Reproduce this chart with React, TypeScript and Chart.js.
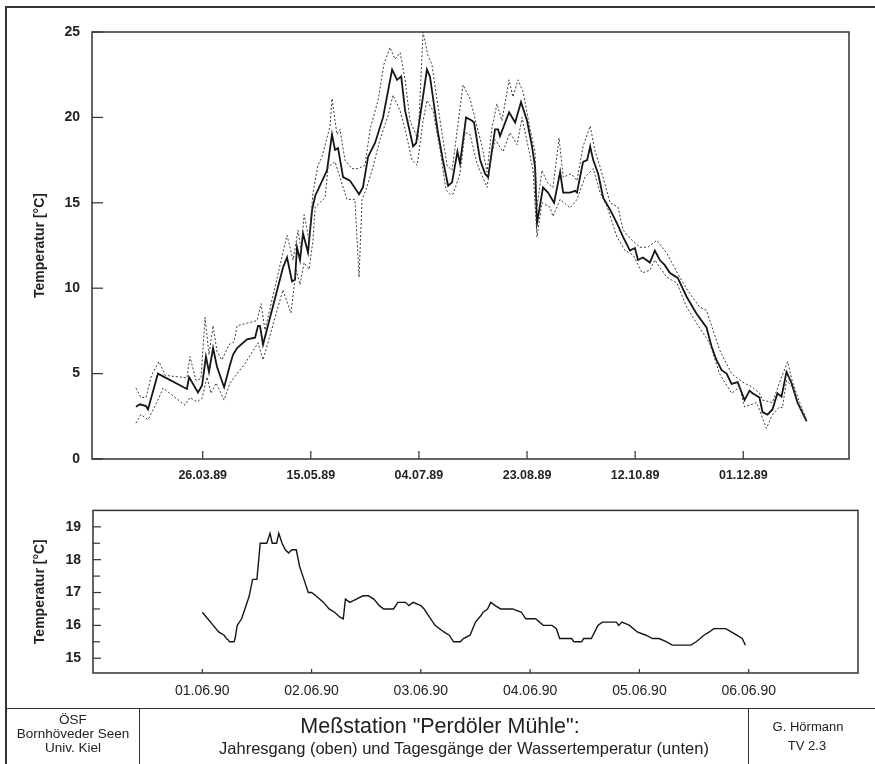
import React, { useEffect, useRef } from 'react';
import { Chart, registerables } from 'chart.js';

Chart.register(...registerables);

// ---------- Top chart: annual course 1989 (x = day of year, 0 = 01.01.89) ----------
const topTickDays = [84, 134, 184, 234, 284, 334];
const topTickLabels = ['26.03.89', '15.05.89', '04.07.89', '23.08.89', '12.10.89', '01.12.89'];
const topYTicks = [0, 5, 10, 15, 20, 25];

const meanDays = [53.1, 55.0, 57.8, 58.7, 63.3, 76.7, 77.7, 81.8, 83.7, 85.5, 86.9, 88.8, 90.6, 93.9, 96.6, 98.0, 99.9, 104.5, 108.2, 109.6, 110.5, 111.9, 121.1, 123.0, 125.3, 126.7, 127.6, 129.0, 130.4, 132.7, 134.6, 136.0, 141.5, 143.8, 145.2, 146.6, 148.9, 152.1, 156.3, 158.1, 160.5, 163.7, 167.4, 169.2, 171.6, 173.9, 175.8, 177.6, 181.3, 182.7, 185.4, 187.7, 189.1, 192.8, 195.1, 197.5, 199.3, 201.8, 203.0, 205.8, 208.6, 209.5, 212.3, 214.6, 216.0, 217.8, 219.2, 220.6, 221.5, 225.7, 228.5, 231.2, 234.0, 236.3, 237.7, 238.6, 241.4, 243.7, 246.5, 249.3, 250.7, 253.9, 256.2, 257.1, 259.9, 261.8, 263.2, 264.6, 266.9, 269.2, 272.4, 275.6, 278.4, 281.6, 283.9, 285.3, 287.6, 290.8, 293.1, 295.4, 297.7, 300.0, 303.7, 307.8, 312.4, 317.0, 319.3, 321.6, 324.0, 326.3, 328.6, 331.4, 334.6, 336.9, 338.3, 341.5, 342.9, 345.2, 347.5, 349.8, 351.7, 354.0, 356.3, 359.1, 361.4, 363.3];
const meanTemps = [3.06, 3.2, 3.1, 2.9, 5.0, 4.1, 4.8, 3.9, 4.3, 6.0, 5.1, 6.5, 5.4, 4.2, 5.5, 6.1, 6.5, 7.0, 7.1, 7.8, 7.8, 6.7, 11.2, 11.8, 10.4, 10.5, 12.4, 11.65, 13.2, 12.1, 14.6, 15.4, 16.9, 19.0, 18.1, 18.2, 16.5, 16.3, 15.5, 15.9, 17.7, 18.5, 20.0, 21.2, 22.8, 22.2, 22.4, 20.4, 18.3, 18.5, 20.8, 22.8, 22.4, 19.1, 17.5, 16.0, 16.2, 18.0, 17.3, 20.0, 19.8, 19.7, 17.5, 16.7, 16.5, 18.1, 19.3, 19.3, 18.9, 20.3, 19.7, 20.9, 19.8, 18.3, 17.1, 13.8, 15.9, 15.6, 15.0, 16.8, 15.6, 15.6, 15.7, 15.6, 17.4, 17.5, 18.3, 17.5, 16.7, 15.3, 14.6, 13.8, 13.0, 12.2, 12.35, 11.65, 11.8, 11.5, 12.2, 11.65, 11.35, 10.9, 10.6, 9.5, 8.5, 7.7, 6.6, 5.8, 5.2, 5.0, 4.4, 4.5, 3.45, 4.0, 3.85, 3.6, 2.75, 2.6, 2.9, 3.85, 3.65, 5.1, 4.45, 3.3, 2.7, 2.2];

const maxDays = [53.1, 55.4, 57.8, 60.3, 63.8, 66.6, 76.7, 78.1, 80.9, 83.2, 85.1, 86.9, 88.8, 90.6, 92.9, 96.2, 98.5, 99.9, 109.1, 111.0, 112.8, 123.0, 125.8, 128.1, 129.5, 130.9, 133.2, 135.0, 137.3, 139.2, 142.9, 143.8, 146.1, 147.5, 149.8, 153.0, 155.8, 159.1, 161.4, 165.1, 167.8, 170.6, 172.9, 175.3, 177.6, 179.9, 183.6, 185.9, 188.2, 190.0, 193.8, 197.0, 199.3, 204.4, 207.6, 209.0, 213.2, 215.5, 217.8, 220.1, 222.4, 225.7, 227.5, 229.8, 232.2, 235.4, 237.7, 238.6, 240.9, 243.3, 246.0, 248.8, 250.7, 254.4, 257.1, 259.9, 263.2, 265.5, 267.8, 272.4, 276.1, 278.4, 282.6, 286.2, 289.9, 294.0, 298.6, 304.6, 309.2, 313.8, 317.0, 323.0, 328.6, 333.7, 338.3, 341.5, 342.9, 347.5, 351.7, 354.5, 356.8, 360.1, 363.3];
const maxTemps = [4.15, 3.6, 3.6, 4.9, 5.7, 4.9, 4.75, 6.0, 4.6, 4.7, 8.3, 6.1, 7.8, 6.3, 5.8, 6.7, 6.85, 7.8, 8.1, 9.1, 7.55, 13.1, 11.65, 13.4, 12.2, 14.3, 12.8, 15.6, 17.2, 17.7, 19.5, 21.1, 19.0, 19.3, 17.5, 17.0, 17.0, 17.2, 19.3, 21.0, 23.1, 24.1, 23.4, 23.8, 22.2, 19.8, 18.7, 25.0, 23.6, 23.1, 19.8, 17.2, 16.9, 21.9, 21.1, 20.4, 18.3, 16.8, 19.4, 20.8, 19.8, 22.2, 21.2, 22.2, 21.5, 19.3, 18.0, 14.75, 16.9, 16.2, 15.9, 18.8, 16.5, 16.7, 16.3, 18.3, 19.5, 18.0, 17.1, 15.0, 14.75, 13.4, 12.8, 12.4, 12.4, 12.8, 12.05, 10.65, 9.7, 8.9, 8.7, 6.4, 5.0, 4.5, 4.2, 3.85, 3.45, 3.3, 4.8, 5.7, 4.5, 3.3, 2.3];

const minDays = [53.1, 55.4, 58.7, 63.3, 65.7, 75.8, 78.1, 81.4, 83.7, 86.0, 87.8, 90.2, 93.9, 96.6, 103.6, 109.6, 111.9, 121.1, 124.8, 127.2, 129.0, 130.9, 133.2, 135.0, 136.0, 140.6, 142.0, 145.2, 150.7, 154.4, 156.3, 157.7, 159.5, 162.3, 166.0, 169.7, 172.0, 175.3, 177.6, 180.8, 183.2, 185.9, 187.7, 190.5, 193.8, 196.5, 198.4, 199.8, 203.0, 205.3, 207.6, 210.9, 215.5, 217.8, 219.2, 222.9, 226.1, 229.4, 231.7, 234.5, 236.8, 238.6, 240.9, 244.6, 246.0, 249.3, 253.9, 257.1, 260.8, 264.6, 267.8, 271.1, 275.6, 279.3, 283.0, 287.2, 290.8, 293.1, 298.6, 303.3, 307.8, 312.4, 318.4, 323.0, 328.6, 332.3, 334.6, 340.2, 344.7, 347.5, 350.7, 352.1, 354.0, 356.8, 360.1, 363.3];
const minTemps = [2.1, 2.6, 2.3, 3.45, 4.15, 3.15, 3.6, 3.35, 3.55, 4.8, 3.85, 4.45, 3.45, 4.45, 5.6, 6.8, 5.8, 9.9, 8.55, 11.1, 10.2, 11.5, 11.1, 12.8, 14.75, 15.3, 17.1, 17.4, 15.2, 15.2, 10.65, 15.2, 15.75, 16.9, 18.7, 20.1, 21.3, 20.4, 19.3, 17.5, 17.2, 19.8, 21.0, 20.4, 18.1, 15.75, 15.5, 15.5, 16.7, 19.1, 19.0, 17.3, 15.9, 17.9, 18.7, 18.0, 19.1, 18.4, 20.0, 18.3, 16.9, 13.0, 15.0, 14.75, 14.2, 15.2, 14.7, 15.2, 16.5, 17.0, 15.6, 14.75, 13.0, 12.2, 11.95, 10.9, 11.05, 11.65, 10.65, 10.3, 8.9, 7.95, 6.8, 5.0, 3.85, 4.2, 3.05, 3.3, 1.8, 2.6, 3.05, 3.0, 4.6, 4.2, 3.05, 2.2];

// ---------- Bottom chart: diurnal course 01.06.90 - 06.06.90 (x = days since 01.06.90 00:00) ----------
const dayTickValues = [0, 1, 2, 3, 4, 5];
const dayTickLabels = ['01.06.90', '02.06.90', '03.06.90', '04.06.90', '05.06.90', '06.06.90'];
const dayYTicks = [15, 15.5, 16, 16.5, 17, 17.5, 18, 18.5, 19];

const juneTimes = [0.00, 0.05, 0.10, 0.15, 0.20, 0.22, 0.24, 0.25, 0.29, 0.30, 0.32, 0.36, 0.40, 0.43, 0.46, 0.50, 0.53, 0.59, 0.62, 0.64, 0.68, 0.70, 0.73, 0.76, 0.79, 0.82, 0.86, 0.89, 0.93, 0.97, 1.00, 1.04, 1.11, 1.16, 1.21, 1.26, 1.29, 1.31, 1.35, 1.41, 1.47, 1.52, 1.57, 1.62, 1.66, 1.75, 1.79, 1.86, 1.89, 1.93, 2.00, 2.03, 2.07, 2.13, 2.21, 2.26, 2.30, 2.36, 2.39, 2.45, 2.50, 2.55, 2.57, 2.61, 2.64, 2.68, 2.73, 2.84, 2.92, 2.96, 3.05, 3.12, 3.20, 3.24, 3.27, 3.38, 3.40, 3.47, 3.49, 3.56, 3.62, 3.66, 3.79, 3.81, 3.84, 3.91, 3.98, 4.06, 4.12, 4.18, 4.25, 4.30, 4.47, 4.52, 4.59, 4.64, 4.68, 4.79, 4.84, 4.89, 4.94, 4.97];
const juneTemps = [16.4, 16.2, 16.0, 15.8, 15.7, 15.6, 15.55, 15.5, 15.5, 15.6, 16.0, 16.2, 16.6, 16.9, 17.4, 17.4, 18.5, 18.5, 18.8, 18.5, 18.5, 18.8, 18.5, 18.3, 18.2, 18.3, 18.3, 17.8, 17.4, 17.0, 17.0, 16.9, 16.7, 16.5, 16.4, 16.25, 16.2, 16.8, 16.7, 16.8, 16.9, 16.9, 16.8, 16.6, 16.5, 16.5, 16.7, 16.7, 16.6, 16.7, 16.6, 16.5, 16.3, 16.0, 15.8, 15.7, 15.5, 15.5, 15.6, 15.7, 16.1, 16.3, 16.4, 16.5, 16.7, 16.6, 16.5, 16.5, 16.4, 16.2, 16.2, 16.0, 16.0, 15.9, 15.6, 15.6, 15.5, 15.5, 15.6, 15.6, 16.0, 16.1, 16.1, 16.0, 16.1, 16.0, 15.8, 15.7, 15.6, 15.6, 15.5, 15.4, 15.4, 15.5, 15.7, 15.8, 15.9, 15.9, 15.8, 15.7, 15.6, 15.4];

const FONT = '"Liberation Sans", Arial, Helvetica, sans-serif';
const INK = '#222';

const pts = (xs: number[], ys: number[]) => xs.map((x, i) => ({ x, y: ys[i] }));

const insideTicks = {
  id: 'insideTicks',
  afterDraw(chart: any, _args: any, opts: any) {
    const { ctx, chartArea: a } = chart;
    ctx.save();
    ctx.strokeStyle = '#333';
    ctx.lineWidth = 1.5;
    ctx.strokeRect(a.left, a.top, a.right - a.left, a.bottom - a.top);
    ctx.lineWidth = 1.2;
    const xs = chart.scales.x;
    xs.ticks.forEach((t: any) => {
      const px = xs.getPixelForValue(t.value);
      ctx.beginPath();
      ctx.moveTo(px, a.bottom);
      ctx.lineTo(px, a.bottom - opts.xLen);
      ctx.stroke();
    });
    const ys = chart.scales.y;
    ys.ticks.forEach((t: any) => {
      const py = ys.getPixelForValue(t.value);
      const len = Number.isInteger(t.value) ? opts.yLen : opts.yMinor;
      ctx.beginPath();
      ctx.moveTo(a.left, py);
      ctx.lineTo(a.left + len, py);
      ctx.stroke();
    });
    ctx.restore();
  },
};

function useChart(ref: React.RefObject<HTMLCanvasElement>, makeConfig: () => any) {
  useEffect(() => {
    if (!ref.current) return;
    const chart = new Chart(ref.current, makeConfig());
    return () => chart.destroy();
  }, []);
}

export default function App() {
  const topRef = useRef<HTMLCanvasElement>(null);
  const botRef = useRef<HTMLCanvasElement>(null);

  useChart(topRef, () => ({
    type: 'line',
    data: {
      datasets: [
        { data: pts(maxDays, maxTemps), borderColor: '#3a3a3a', borderWidth: 1, borderDash: [2, 2], pointRadius: 0, tension: 0 },
        { data: pts(minDays, minTemps), borderColor: '#3a3a3a', borderWidth: 1, borderDash: [2, 2], pointRadius: 0, tension: 0 },
        { data: pts(meanDays, meanTemps), borderColor: '#151515', borderWidth: 1.8, pointRadius: 0, tension: 0 },
      ],
    },
    options: {
      animation: false,
      responsive: false,
      events: [],
      layout: { padding: { top: 32, right: 26, left: 0, bottom: 0 } },
      plugins: { legend: { display: false }, tooltip: { enabled: false }, insideTicks: { xLen: 8, yLen: 11, yMinor: 7 } },
      scales: {
        x: {
          type: 'linear', min: 32.8, max: 382.9,
          grid: { display: false, drawTicks: false }, border: { display: false },
          afterBuildTicks: (s: any) => { s.ticks = topTickDays.map((v) => ({ value: v })); },
          afterFit: (s: any) => { s.height = 31; },
          ticks: { autoSkip: false, maxRotation: 0, padding: 9, color: INK, font: { family: FONT, size: 12.5, weight: 'bold' }, callback: (_v: any, i: number) => topTickLabels[i] },
        },
        y: {
          type: 'linear', min: 0, max: 25,
          grid: { display: false, drawTicks: false }, border: { display: false },
          afterBuildTicks: (s: any) => { s.ticks = topYTicks.map((v) => ({ value: v })); },
          afterFit: (s: any) => { s.width = 92; },
          ticks: { padding: 12, color: INK, font: { family: FONT, size: 14, weight: 'bold' }, callback: (v: any) => String(v) },
          title: { display: true, text: 'Temperatur [°C]', color: INK, font: { family: FONT, size: 14, weight: 'bold' }, padding: { top: 31.6, bottom: 0 } },
        },
      },
    },
    plugins: [insideTicks],
  }));

  useChart(botRef, () => ({
    type: 'line',
    data: {
      datasets: [
        { data: pts(juneTimes, juneTemps), borderColor: '#151515', borderWidth: 1.4, pointRadius: 0, tension: 0 },
      ],
    },
    options: {
      animation: false,
      responsive: false,
      events: [],
      layout: { padding: { top: 16, right: 17, left: 0, bottom: 0 } },
      plugins: { legend: { display: false }, tooltip: { enabled: false }, insideTicks: { xLen: 4, yLen: 8, yMinor: 7 } },
      scales: {
        x: {
          type: 'linear', min: -1, max: 6,
          grid: { display: false, drawTicks: false }, border: { display: false },
          afterBuildTicks: (s: any) => { s.ticks = dayTickValues.map((v) => ({ value: v })); },
          afterFit: (s: any) => { s.height = 35; },
          ticks: { autoSkip: false, maxRotation: 0, padding: 10, color: INK, font: { family: FONT, size: 14 }, callback: (_v: any, i: number) => dayTickLabels[i] },
        },
        y: {
          type: 'linear', min: 14.55, max: 19.5,
          grid: { display: false, drawTicks: false }, border: { display: false },
          afterBuildTicks: (s: any) => { s.ticks = dayYTicks.map((v) => ({ value: v })); },
          afterFit: (s: any) => { s.width = 93; },
          ticks: { autoSkip: false, padding: 12, color: INK, font: { family: FONT, size: 14, weight: 'bold' }, callback: (v: any) => (Number.isInteger(v) ? String(v) : '') },
          title: { display: true, text: 'Temperatur [°C]', color: INK, font: { family: FONT, size: 14, weight: 'bold' }, padding: { top: 31.6, bottom: 0 } },
        },
      },
    },
    plugins: [insideTicks],
  }));

  const txt = (cx: number, cy: number, size: number, w = 200): React.CSSProperties => ({
    position: 'absolute', left: cx - w / 2, width: w, top: cy - size * 0.6, height: size * 1.2, lineHeight: `${size * 1.2}px`,
    fontSize: size, fontFamily: FONT, color: INK, textAlign: 'center', whiteSpace: 'nowrap',
  });

  return (
    <div style={{ position: 'absolute', left: 0, top: 0, width: 875, height: 764, overflow: 'hidden', background: '#fff' }}>
      <canvas ref={topRef} width={875} height={490} style={{ position: 'absolute', left: 0, top: 0, width: 875, height: 490 }} />
      <canvas ref={botRef} width={875} height={218} style={{ position: 'absolute', left: 0, top: 490, width: 875, height: 218 }} />
      {/* frame */}
      <div style={{ position: 'absolute', left: 5, top: 6, width: 1000, height: 1000, borderLeft: '2px solid #333', borderTop: '2px solid #333' }} />
      <div style={{ position: 'absolute', left: 6, top: 708, width: 1000, height: 0, borderTop: '1.5px solid #333' }} />
      <div style={{ position: 'absolute', left: 139, top: 708, width: 0, height: 100, borderLeft: '1.5px solid #333' }} />
      <div style={{ position: 'absolute', left: 748, top: 708, width: 0, height: 100, borderLeft: '1.5px solid #333' }} />
      {/* footer text */}
      <div style={txt(73, 720, 13.5, 134)}>ÖSF</div>
      <div style={txt(73, 734, 13.5, 134)}>Bornhöveder Seen</div>
      <div style={txt(73, 748, 13.5, 134)}>Univ. Kiel</div>
      <div style={txt(440, 727, 21.5, 460)}>Meßstation "Perdöler Mühle":</div>
      <div style={txt(464, 749, 16.5, 600)}>Jahresgang (oben) und Tagesgänge der Wassertemperatur (unten)</div>
      <div style={txt(808, 727, 13, 110)}>G. Hörmann</div>
      <div style={txt(807, 746, 13, 110)}>TV 2.3</div>
    </div>
  );
}
